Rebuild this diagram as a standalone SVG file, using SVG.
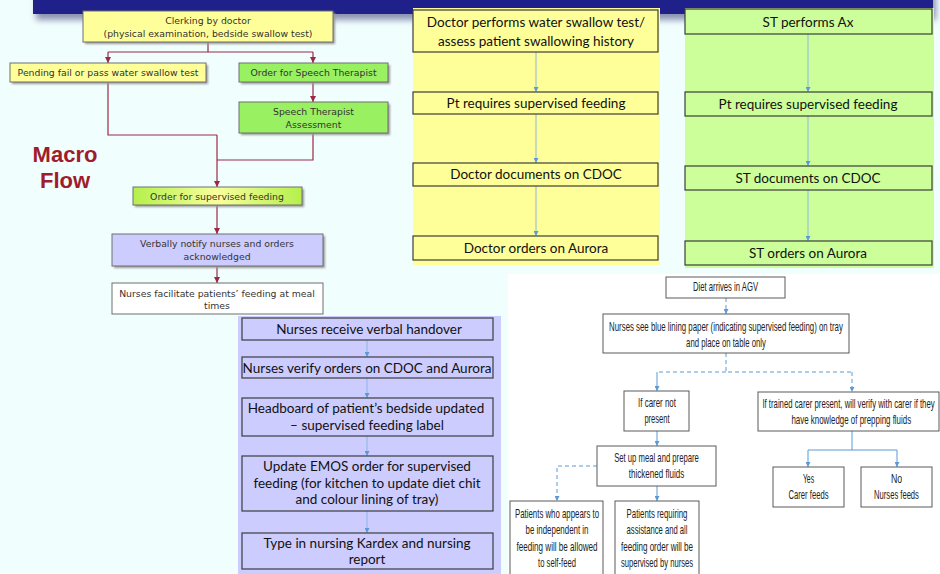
<svg xmlns="http://www.w3.org/2000/svg" width="940" height="574" viewBox="0 0 940 574">
<defs>
<style>
.l{font-family:"DejaVu Sans",Verdana,sans-serif;font-size:9.3px;fill:#333;text-anchor:middle}
.p{font-family:Lato,"Open Sans",sans-serif;font-size:13.5px;fill:#111;text-anchor:middle}
.b{font-family:"Liberation Sans Narrow","Liberation Sans",sans-serif;font-size:12px;fill:#222;text-anchor:middle}
.bx{stroke:#6e6e6e;stroke-width:1}
.pb{stroke:#3c3c3c;stroke-width:1.2}
.wb{fill:#fff;stroke:#5a5a5a;stroke-width:1}
.rc{fill:none;stroke:#9b2946;stroke-width:1.2}
.bc{fill:none;stroke:#8db4e2;stroke-width:1}
.dc{fill:none;stroke:#5b9bd5;stroke-width:1}
.dd{fill:none;stroke:#5b9bd5;stroke-width:1;stroke-dasharray:4 3}
</style>
<marker id="ra" viewBox="0 0 6 6" refX="6" refY="3" markerWidth="6" markerHeight="6" markerUnits="userSpaceOnUse" orient="auto"><path d="M0,0 L6,3 L0,6 z" fill="#9b2946"/></marker>
<marker id="ba" viewBox="0 0 6 6" refX="6" refY="3" markerWidth="5" markerHeight="5" markerUnits="userSpaceOnUse" orient="auto"><path d="M0,0 L6,3 L0,6 z" fill="#5b9bd5"/></marker>
<linearGradient id="gf" x1="0" y1="0" x2="1" y2="0">
<stop offset="0" stop-color="#b4f04c"/><stop offset="0.5" stop-color="#f8ff9c"/><stop offset="1" stop-color="#b4f04c"/>
</linearGradient>
<filter id="sh" x="-5%" y="-50%" width="110%" height="200%"><feGaussianBlur stdDeviation="3"/></filter>
<filter id="bs" x="-10%" y="-30%" width="120%" height="160%"><feGaussianBlur stdDeviation="1"/></filter>
</defs>
<rect width="940" height="574" fill="#f1fefe"/>
<g id="header">
<rect x="36" y="-6" width="900" height="26" fill="#8c92b0" filter="url(#sh)"/>
<rect x="33" y="-10" width="900" height="24" fill="#20208a"/>
</g>
<text x="65" y="162" font-family="Liberation Sans,Arial,sans-serif" font-size="22" font-weight="bold" fill="#a01c2c" text-anchor="middle">Macro</text>
<text x="65" y="188" font-family="Liberation Sans,Arial,sans-serif" font-size="22" font-weight="bold" fill="#a01c2c" text-anchor="middle">Flow</text>

<g id="macro-connectors">
<path class="rc" d="M208,42 V52 M108,52 H313"/>
<path class="rc" d="M108,52 V63" marker-end="url(#ra)"/>
<path class="rc" d="M313,52 V63" marker-end="url(#ra)"/>
<path class="rc" d="M313,82 V102" marker-end="url(#ra)"/>
<path class="rc" d="M108,82 V135 H217"/>
<path class="rc" d="M313,133 V160 H217"/>
<path class="rc" d="M217,135 V187" marker-end="url(#ra)"/>
<path class="rc" d="M217,205 V234" marker-end="url(#ra)"/>
<path class="rc" d="M217,266 V283" marker-end="url(#ra)"/>
</g>

<g id="clerking">
<rect x="85" y="13" width="250" height="31" fill="#999" filter="url(#bs)"/>
<rect class="bx" x="83" y="11" width="250" height="31" fill="#ffff99"/>
<text class="l" x="208" y="24">Clerking by doctor</text>
<text class="l" x="208" y="37">(physical examination, bedside swallow test)</text>
</g>
<g id="pending">
<rect x="12" y="65" width="196" height="19" fill="#999" filter="url(#bs)"/>
<rect class="bx" x="10" y="63" width="196" height="19" fill="#ffff99"/>
<text class="l" x="108" y="76">Pending fail or pass water swallow test</text>
</g>
<g id="order-st">
<rect x="241" y="65" width="149" height="19" fill="#999" filter="url(#bs)"/>
<rect class="bx" x="239" y="63" width="149" height="19" fill="#99f060"/>
<text class="l" x="313.5" y="76">Order for Speech Therapist</text>
</g>
<g id="st-assessment">
<rect x="241" y="104" width="149" height="31" fill="#999" filter="url(#bs)"/>
<rect class="bx" x="239" y="102" width="149" height="31" fill="#99f060"/>
<text class="l" x="313.5" y="115">Speech Therapist</text>
<text class="l" x="313.5" y="128">Assessment</text>
</g>
<g id="order-supervised">
<rect x="135" y="189" width="169" height="18" fill="#999" filter="url(#bs)"/>
<rect class="bx" x="133" y="187" width="169" height="18" fill="url(#gf)"/>
<text class="l" x="217" y="199.5">Order for supervised feeding</text>
</g>
<g id="verbally-notify">
<rect x="114" y="236" width="211" height="32" fill="#999" filter="url(#bs)"/>
<rect class="bx" x="112" y="234" width="211" height="32" fill="#ccccff"/>
<text class="l" x="217" y="247">Verbally notify nurses and orders</text>
<text class="l" x="217" y="260">acknowledged</text>
</g>
<g id="nurses-facilitate">
<rect class="bx" x="112" y="283" width="211" height="31" fill="#fff"/>
<text class="l" x="217" y="296.5">Nurses facilitate patients’ feeding at meal</text>
<text class="l" x="217" y="309">times</text>
</g>

<g id="doctor-panel">
<rect x="413" y="8" width="247" height="257" fill="#ffff99"/>
<g class="bc">
<path d="M536,52 V92" marker-end="url(#ba)"/>
<path d="M536,114 V163" marker-end="url(#ba)"/>
<path d="M536,186 V236" marker-end="url(#ba)"/>
</g>
<g id="d1"><rect class="pb" x="413" y="10" width="245" height="42" fill="#ffff99"/>
<text class="p" x="536" y="27">Doctor performs water swallow test/</text>
<text class="p" x="536" y="46">assess patient swallowing history</text></g>
<g id="d2"><rect class="pb" x="413" y="92" width="245" height="22" fill="#ffff99"/>
<text class="p" x="536" y="107.5">Pt requires supervised feeding</text></g>
<g id="d3"><rect class="pb" x="413" y="163" width="245" height="23" fill="#ffff99"/>
<text class="p" x="536" y="179">Doctor documents on CDOC</text></g>
<g id="d4"><rect class="pb" x="413" y="236" width="245" height="24" fill="#ffff99"/>
<text class="p" x="536" y="252.5">Doctor orders on Aurora</text></g>
</g>

<g id="st-panel">
<rect x="685" y="8" width="249" height="260" fill="#ccff99"/>
<g class="bc">
<path d="M808,34 V92" marker-end="url(#ba)"/>
<path d="M808,116 V166" marker-end="url(#ba)"/>
<path d="M808,190 V241" marker-end="url(#ba)"/>
</g>
<g id="s1"><rect class="pb" x="685" y="9" width="247" height="25" fill="#ccff99"/>
<text class="p" x="808" y="26.5">ST performs Ax</text></g>
<g id="s2"><rect class="pb" x="685" y="92" width="247" height="24" fill="#ccff99"/>
<text class="p" x="808" y="108.5">Pt requires supervised feeding</text></g>
<g id="s3"><rect class="pb" x="685" y="166" width="247" height="24" fill="#ccff99"/>
<text class="p" x="808" y="182.5">ST documents on CDOC</text></g>
<g id="s4"><rect class="pb" x="685" y="241" width="247" height="24" fill="#ccff99"/>
<text class="p" x="808" y="257.5">ST orders on Aurora</text></g>
</g>

<g id="nurse-panel">
<rect x="238" y="316" width="263" height="258" fill="#ccccff"/>
<g class="bc">
<path d="M367,340 V357" marker-end="url(#ba)"/>
<path d="M367,378 V398" marker-end="url(#ba)"/>
<path d="M367,436 V456" marker-end="url(#ba)"/>
<path d="M367,511 V533" marker-end="url(#ba)"/>
</g>
<g id="n1"><rect class="pb" x="242" y="318" width="251" height="22" fill="#ccccff"/>
<text class="p" x="369" y="334">Nurses receive verbal handover</text></g>
<g id="n2"><rect class="pb" x="242" y="357" width="251" height="21" fill="#ccccff"/>
<text class="p" x="367" y="372.5">Nurses verify orders on CDOC and Aurora</text></g>
<g id="n3"><rect class="pb" x="242" y="398" width="251" height="38" fill="#ccccff"/>
<text class="p" x="366" y="413">Headboard of patient’s bedside updated</text>
<text class="p" x="367" y="430">– supervised feeding label</text></g>
<g id="n4"><rect class="pb" x="242" y="456" width="251" height="55" fill="#ccccff"/>
<text class="p" x="367" y="471">Update EMOS order for supervised</text>
<text class="p" x="367" y="488">feeding (for kitchen to update diet chit</text>
<text class="p" x="367" y="504">and colour lining of tray)</text></g>
<g id="n5"><rect class="pb" x="242" y="533" width="251" height="36" fill="#ccccff"/>
<text class="p" x="367" y="547.5">Type in nursing Kardex and nursing</text>
<text class="p" x="367" y="563.5">report</text></g>
</g>

<g id="ward-panel">
<rect x="508" y="274" width="432" height="300" fill="#fff"/>
<g id="ward-connectors">
<path class="dd" d="M726,298 V314" marker-end="url(#ba)"/>
<path class="dd" d="M726,353 V372 H852"/>
<path class="dd" d="M852,372 V392" marker-end="url(#ba)"/>
<path class="dd" d="M726,372 H657"/>
<path class="dc" d="M657,372 V391" marker-end="url(#ba)"/>
<path class="dc" d="M657,431 V446" marker-end="url(#ba)"/>
<path class="dd" d="M597,466 H557 V501" marker-end="url(#ba)"/>
<path class="dc" d="M657,486 V501" marker-end="url(#ba)"/>
<path class="dc" d="M852,431 V450 M808,450 H897"/>
<path class="dc" d="M808,450 V467" marker-end="url(#ba)"/>
<path class="dc" d="M897,450 V467" marker-end="url(#ba)"/>
</g>
<g id="w1"><rect class="wb" x="666" y="277" width="119" height="21"/>
<g transform="translate(725.5,0) scale(0.7,1)">
<text class="b" x="0" y="291.5" textLength="93" lengthAdjust="spacingAndGlyphs">Diet arrives in AGV</text>
</g></g>
<g id="w2"><rect class="wb" x="603" y="314" width="246" height="39"/>
<g transform="translate(726,0) scale(0.7,1)">
<text class="b" x="0" y="331" textLength="334" lengthAdjust="spacingAndGlyphs">Nurses see blue lining  paper (indicating supervised feeding) on tray</text>
<text class="b" x="0" y="347" textLength="114" lengthAdjust="spacingAndGlyphs">and place on table only</text>
</g></g>
<g id="w3"><rect class="wb" x="624" y="391" width="65" height="40"/>
<g transform="translate(657,0) scale(0.7,1)">
<text class="b" x="0" y="407" textLength="54" lengthAdjust="spacingAndGlyphs">If carer not</text>
<text class="b" x="0" y="423" textLength="36" lengthAdjust="spacingAndGlyphs">present</text>
</g></g>
<g id="w4"><rect class="wb" x="758" y="392" width="181" height="39"/>
<g transform="translate(848.5,0) scale(0.7,1)">
<text class="b" x="0" y="408" textLength="246" lengthAdjust="spacingAndGlyphs">If trained carer present, will verify with carer if they</text>
<text class="b" x="4" y="424" textLength="171" lengthAdjust="spacingAndGlyphs">have knowledge of prepping fluids</text>
</g></g>
<g id="w5"><rect class="wb" x="597" y="446" width="119" height="40"/>
<g transform="translate(656.5,0) scale(0.7,1)">
<text class="b" x="0" y="462" textLength="121" lengthAdjust="spacingAndGlyphs">Set up meal and prepare</text>
<text class="b" x="0" y="478" textLength="79" lengthAdjust="spacingAndGlyphs">thickened fluids</text>
</g></g>
<g id="w6"><rect class="wb" x="510" y="501" width="93" height="80"/>
<g transform="translate(557,0) scale(0.7,1)">
<text class="b" x="0" y="518" textLength="120" lengthAdjust="spacingAndGlyphs">Patients who appears to</text>
<text class="b" x="0" y="534.5" textLength="90" lengthAdjust="spacingAndGlyphs">be independent in</text>
<text class="b" x="0" y="551" textLength="116" lengthAdjust="spacingAndGlyphs">feeding will  be allowed</text>
<text class="b" x="0" y="567.5" textLength="54" lengthAdjust="spacingAndGlyphs">to self-feed</text>
</g></g>
<g id="w7"><rect class="wb" x="615" y="501" width="84" height="80"/>
<g transform="translate(657,0) scale(0.7,1)">
<text class="b" x="0" y="518" textLength="87" lengthAdjust="spacingAndGlyphs">Patients requiring</text>
<text class="b" x="0" y="534.5" textLength="87" lengthAdjust="spacingAndGlyphs">assistance and all</text>
<text class="b" x="0" y="551" textLength="103" lengthAdjust="spacingAndGlyphs">feeding order will be</text>
<text class="b" x="0" y="567.5" textLength="103" lengthAdjust="spacingAndGlyphs">supervised by nurses</text>
</g></g>
<g id="w8"><rect class="wb" x="773" y="467" width="71" height="40"/>
<g transform="translate(808.5,0) scale(0.7,1)">
<text class="b" x="0" y="483.5" textLength="16" lengthAdjust="spacingAndGlyphs">Yes</text>
<text class="b" x="0" y="499.5" textLength="57" lengthAdjust="spacingAndGlyphs">Carer feeds</text>
</g></g>
<g id="w9"><rect class="wb" x="861" y="467" width="71" height="40"/>
<g transform="translate(896.5,0) scale(0.7,1)">
<text class="b" x="0" y="483.5" textLength="16" lengthAdjust="spacingAndGlyphs">No</text>
<text class="b" x="0" y="499.5" textLength="64" lengthAdjust="spacingAndGlyphs">Nurses feeds</text>
</g></g>
</g>
</svg>
